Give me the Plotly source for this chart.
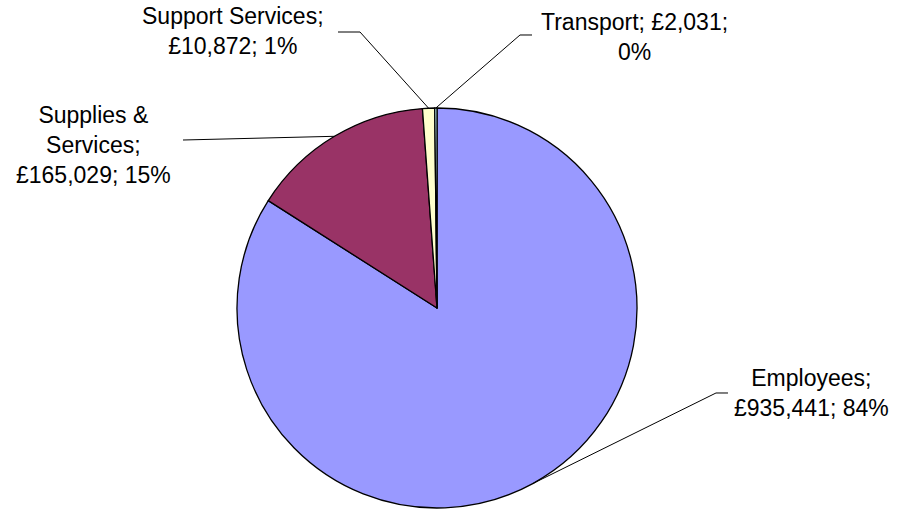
import math
import plotly.graph_objects as go

# Budget breakdown by cost heading
categories = ["Employees", "Supplies &amp; Services", "Support Services", "Transport"]
label_lines = [
    ["Employees;", "£935,441; 84%"],
    ["Supplies &", "Services;", "£165,029; 15%"],
    ["Support Services;", "£10,872; 1%"],
    ["Transport; £2,031;", "0%"],
]
amounts = [935441, 165029, 10872, 2031]
colors = ["#9999FF", "#993366", "#FFFFCC", "#CCFFFF"]

W, H = 901, 509
CX, CY, R = 437, 308, 200          # pie centre / radius in pixels

# label block centres (px) and leader-line elbows (px)
label_pos = [(811, 393), (93, 145), (233, 31), (634, 37)]
elbows = [[(728, 393), (716, 393)],
          [(183, 140)],
          [(338, 32), (360, 32)],
          [(532, 35), (520, 35)]]


def px(x, y):
    return x / W, 1 - y / H


fig = go.Figure(go.Pie(
    labels=categories,
    values=amounts,
    sort=False,
    direction="clockwise",
    rotation=0,
    marker=dict(colors=colors, line=dict(color="black", width=1.3)),
    textinfo="none",
    hoverinfo="label+value+percent",
    showlegend=False,
    domain=dict(x=[(CX - R) / W, (CX + R) / W],
                y=[(H - CY - R) / H, (H - CY + R) / H]),
))

total = sum(amounts)
cum = 0
shapes = []
annotations = []
for i, v in enumerate(amounts):
    mid = (cum + v / 2) / total * 2 * math.pi
    cum += v
    ex, ey = CX + R * math.sin(mid), CY - R * math.cos(mid)
    pts = elbows[i] + [(ex, ey)]
    path = ""
    for j, (x, y) in enumerate(pts):
        fx, fy = px(x, y)
        path += ("M" if j == 0 else "L") + f" {fx:.5f} {fy:.5f} "
    shapes.append(dict(type="path", xref="paper", yref="paper", path=path,
                       line=dict(color="black", width=1)))
    lx, ly = px(*label_pos[i])
    annotations.append(dict(
        x=lx, y=ly, xref="paper", yref="paper", showarrow=False,
        text="<br>".join(label_lines[i]), align="center",
        xanchor="center", yanchor="middle",
        font=dict(family="Liberation Sans, Arial, sans-serif", size=23, color="black"),
    ))

fig.update_layout(
    width=W, height=H,
    margin=dict(l=0, r=0, t=0, b=0),
    paper_bgcolor="white", plot_bgcolor="white",
    shapes=shapes, annotations=annotations,
)

fig.write_html("out.html")
